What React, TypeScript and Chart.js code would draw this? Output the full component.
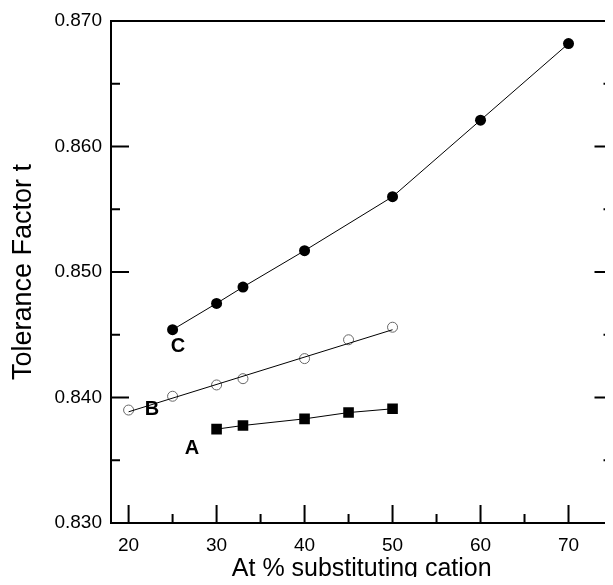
import React, { useEffect, useRef } from "react";
import { Chart, registerables } from "chart.js";

Chart.register(...registerables);

// Data
const xA = [30, 33, 40, 45, 50];
const yA = [0.83748, 0.83777, 0.8383, 0.8388, 0.8391];

const xB = [20, 25, 30, 33, 40, 45, 50];
const yB = [0.839, 0.8401, 0.841, 0.8415, 0.8431, 0.8446, 0.8456];
const xBFit = [20, 50];
const yBFit = [0.83886, 0.8454];

const xC = [25, 30, 33, 40, 50, 60, 70];
const yC = [0.8454, 0.8475, 0.8488, 0.8517, 0.856, 0.8621, 0.8682];

const curveLabels = ["A", "B", "C"];
const labelX = [27.2, 22.67, 25.6];
const labelY = [0.83597, 0.83901, 0.84404];

const xMajorTicks = [20, 30, 40, 50, 60, 70];
const xMinorTicks = [25, 35, 45, 55, 65];
const yMajorTicks = [0.83, 0.84, 0.85, 0.86, 0.87];
const yMinorTicks = [0.835, 0.845, 0.855, 0.865];

const xTitle = "At % substituting cation";
const yTitle = "Tolerance Factor t";

const tickFont = "'Liberation Sans', Arial, sans-serif";
const mainFont = "'Liberation Sans', Arial, sans-serif";

const pts = (xs: number[], ys: number[]) => xs.map((x, i) => ({ x, y: ys[i] }));

const framePlugin = {
  id: "frameTicks",
  afterDraw(chart: any) {
    const { ctx, chartArea } = chart;
    const xs = chart.scales.x;
    const ys = chart.scales.y;
    const { left, right, top, bottom } = chartArea;
    ctx.save();
    ctx.strokeStyle = "#000";
    ctx.lineWidth = 2;
    ctx.beginPath();
    ctx.rect(left, top, right - left, bottom - top);
    ctx.stroke();
    ctx.beginPath();
    const major = 18;
    const minor = 9;
    yMajorTicks.forEach((v) => {
      const p = ys.getPixelForValue(v);
      ctx.moveTo(left, p);
      ctx.lineTo(left + major, p);
      ctx.moveTo(right, p);
      ctx.lineTo(right - major, p);
    });
    yMinorTicks.forEach((v) => {
      const p = ys.getPixelForValue(v);
      ctx.moveTo(left, p);
      ctx.lineTo(left + minor, p);
      ctx.moveTo(right, p);
      ctx.lineTo(right - minor, p);
    });
    xMajorTicks.forEach((v) => {
      const p = xs.getPixelForValue(v);
      ctx.moveTo(p, bottom);
      ctx.lineTo(p, bottom - major);
    });
    xMinorTicks.forEach((v) => {
      const p = xs.getPixelForValue(v);
      ctx.moveTo(p, bottom);
      ctx.lineTo(p, bottom - minor);
    });
    ctx.stroke();

    ctx.fillStyle = "#000";
    ctx.font = `bold 20px ${mainFont}`;
    ctx.textAlign = "center";
    ctx.textBaseline = "middle";
    curveLabels.forEach((t, i) => {
      ctx.fillText(t, xs.getPixelForValue(labelX[i]), ys.getPixelForValue(labelY[i]));
    });
    ctx.restore();
  },
};

export default function App() {
  const ref = useRef<HTMLCanvasElement | null>(null);

  useEffect(() => {
    if (!ref.current) return;
    const chart = new Chart(ref.current, {
      type: "scatter",
      data: {
        datasets: [
          {
            label: "C",
            data: pts(xC, yC),
            showLine: true,
            borderColor: "#000",
            borderWidth: 1,
            pointStyle: "circle",
            pointRadius: 5.5,
            pointBackgroundColor: "#000",
            pointBorderColor: "#000",
            pointBorderWidth: 0,
          },
          {
            label: "B fit",
            data: pts(xBFit, yBFit),
            showLine: true,
            borderColor: "#000",
            borderWidth: 1,
            pointRadius: 0,
          },
          {
            label: "B",
            data: pts(xB, yB),
            showLine: false,
            pointStyle: "circle",
            pointRadius: 5,
            pointBackgroundColor: "rgba(255,255,255,0)",
            pointBorderColor: "#666",
            pointBorderWidth: 1,
          },
          {
            label: "A",
            data: pts(xA, yA),
            showLine: true,
            borderColor: "#000",
            borderWidth: 1,
            pointStyle: "rect",
            pointRadius: 7.5,
            pointBackgroundColor: "#000",
            pointBorderColor: "#000",
            pointBorderWidth: 0,
          },
        ],
      },
      options: {
        responsive: false,
        animation: false,
        events: [],
        layout: { padding: { left: 0, top: 21, right: 6, bottom: 0 } },
        plugins: {
          legend: { display: false },
          tooltip: { enabled: false },
        },
        scales: {
          x: {
            type: "linear",
            min: 18,
            max: 75,
            grid: { display: false, drawTicks: false },
            border: { display: false },
            afterBuildTicks: (s: any) => {
              s.ticks = xMajorTicks.map((v) => ({ value: v }));
            },
            afterFit: (s: any) => {
              s.height = 62;
            },
            ticks: {
              color: "#000",
              padding: 11,
              maxRotation: 0,
              autoSkip: false,
              font: { family: tickFont, size: 19 },
              callback: (v: any) => String(v),
            },
            title: {
              display: true,
              text: xTitle,
              color: "#000",
              font: { family: mainFont, size: 25 },
              padding: { top: 0, bottom: 1 },
            },
          },
          y: {
            type: "linear",
            min: 0.83,
            max: 0.87,
            grid: { display: false, drawTicks: false },
            border: { display: false },
            afterBuildTicks: (s: any) => {
              s.ticks = yMajorTicks.map((v) => ({ value: v }));
            },
            afterFit: (s: any) => {
              s.width = 111;
            },
            ticks: {
              color: "#000",
              padding: 9,
              autoSkip: false,
              font: { family: tickFont, size: 19 },
              callback: (v: any) => Number(v).toFixed(3),
            },
            title: {
              display: true,
              text: yTitle,
              color: "#000",
              font: { family: mainFont, size: 27 },
              padding: { top: 7, bottom: 0 },
            },
          },
        },
      },
      plugins: [framePlugin],
    });
    return () => chart.destroy();
  }, []);

  return (
    <div style={{ margin: -8, width: 613, height: 585, overflow: "hidden", background: "#fff" }}>
      <canvas ref={ref} width={620} height={585} style={{ width: 620, height: 585, display: "block" }} />
    </div>
  );
}
